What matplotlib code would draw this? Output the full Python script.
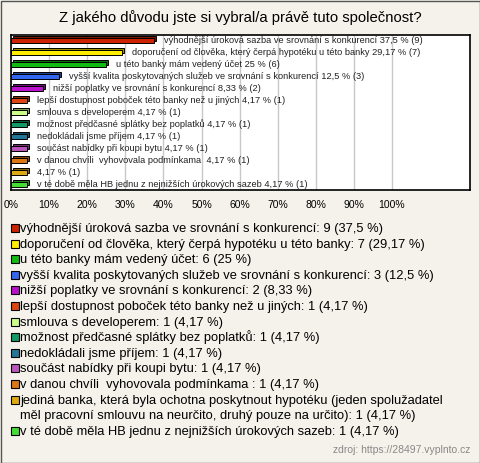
# horizontal bar chart of survey answers with a hand-drawn legend below

import matplotlib.pyplot as plt
from matplotlib.patches import Rectangle
from matplotlib.transforms import ScaledTranslation

plt.rcParams['font.family'] = ['Liberation Sans', 'DejaVu Sans']

title = "Z jakého důvodu jste si vybral/a právě tuto společnost?"
labels = [
    "výhodnější úroková sazba ve srovnání s konkurencí",
    "doporučení od člověka, který čerpá hypotéku u této banky",
    "u této banky mám vedený účet",
    "vyšší kvalita poskytovaných služeb ve srovnání s konkurencí",
    "nižší poplatky ve srovnání s konkurencí",
    "lepší dostupnost poboček této banky než u jiných",
    "smlouva s developerem",
    "možnost předčasné splátky bez poplatků",
    "nedokládali jsme příjem",
    "součást nabídky při koupi bytu",
    "v danou chvíli  vyhovovala podmínkama ",
    "jediná banka, která byla ochotna poskytnout hypotéku (jeden spolužadatel\nměl pracovní smlouvu na neurčito, druhý pouze na určito)",
    "v té době měla HB jednu z nejnižších úrokových sazeb",
]
# the long answer is left out of the bar label in the original
bar_labels = labels[:11] + [""] + labels[12:]
counts = [9, 7, 6, 3, 2, 1, 1, 1, 1, 1, 1, 1, 1]
respondents = 24
colors = ['#cc2200', '#ffee00', '#11bb11', '#3366ee', '#bb11cc', '#dd4411',
          '#ccff88', '#119966', '#227799', '#bb55bb', '#dd7711', '#ddaa11',
          '#44dd33']
x_ticks = list(range(0, 101, 10))


def pct_text(n):
    s = ('%.2f' % (n / respondents * 100)).rstrip('0').rstrip('.')
    return s.replace('.', ',')


def darker(c, f=0.6):
    r, g, b = [int(c[i:i + 2], 16) / 255 for i in (1, 3, 5)]
    return (r * f, g * f, b * f)


W, H = 480, 463
fig = plt.figure(figsize=(W / 100, H / 100), dpi=100)
fig.patch.set_facecolor('#f4f2ea')
fig.patches.append(Rectangle((0.5 / W, 0.5 / H), 1 - 1 / W, 1 - 1 / H,
                             transform=fig.transFigure, fill=False,
                             edgecolor='#555555', lw=1))

fig.text(0.5, 1 - 18 / H, title, ha='center', va='center', fontsize=10.7)

# plot area in pixels
left, right, top, bottom = 11, 470, 35, 190
ax = fig.add_axes([left / W, 1 - bottom / H, (right - left) / W, (bottom - top) / H])
ax.set_facecolor('white')
ax.set_xlim(0, 100 * (right - left) / 381)
ax.set_ylim(len(counts) - 0.5, -0.5)
ax.set_xticks(x_ticks)
ax.set_xticklabels(['%d%%' % t for t in x_ticks], fontsize=7.5)
ax.tick_params(axis='x', length=0, pad=7)
ax.set_yticks([])
ax.grid(axis='x', color='#c8c8c8', lw=1)
ax.set_axisbelow(True)
for s in ax.spines.values():
    s.set_linewidth(1.2)

pcts = [n / respondents * 100 for n in counts]
ypos = list(range(len(counts)))
shift = ScaledTranslation(2 / 100, 2 / 100, fig.dpi_scale_trans)
back = ax.barh(ypos, pcts, height=0.42, color=[darker(c) for c in colors],
               edgecolor='black', lw=0.7)
for b in back:
    b.set_transform(ax.transData + shift)
ax.barh(ypos, pcts, height=0.42, color=colors, edgecolor='black', lw=0.7)

for y, p, lab, n in zip(ypos, pcts, bar_labels, counts):
    txt = (lab + ' ' if lab else '') + '%s %% (%d)' % (pct_text(n), n)
    ax.annotate(txt, (p, y), xytext=(10, 0), textcoords='offset pixels',
                va='center', fontsize=6.7, color='#222222')

# legend drawn by hand below the axis, one text per line
y = 228
for lab, n, c in zip(labels, counts, colors):
    fig.patches.append(Rectangle((11 / W, 1 - (y + 4) / H), 8 / W, 8 / H,
                                 transform=fig.transFigure, facecolor=c,
                                 edgecolor='black', lw=0.8))
    lines = lab.split('\n')
    lines[-1] += ': %d (%s %%)' % (n, pct_text(n))
    for line in lines:
        fig.text(20 / W, 1 - (y + 4) / H, line, va='baseline', ha='left',
                 fontsize=9.3)
        y += 15.6

fig.text(470 / W, 1 - 450 / H, 'zdroj: https://28497.vyplnto.cz', ha='right',
         va='center', fontsize=7.5, color='#888888')

fig.savefig('out.png', dpi=100, facecolor=fig.get_facecolor())
